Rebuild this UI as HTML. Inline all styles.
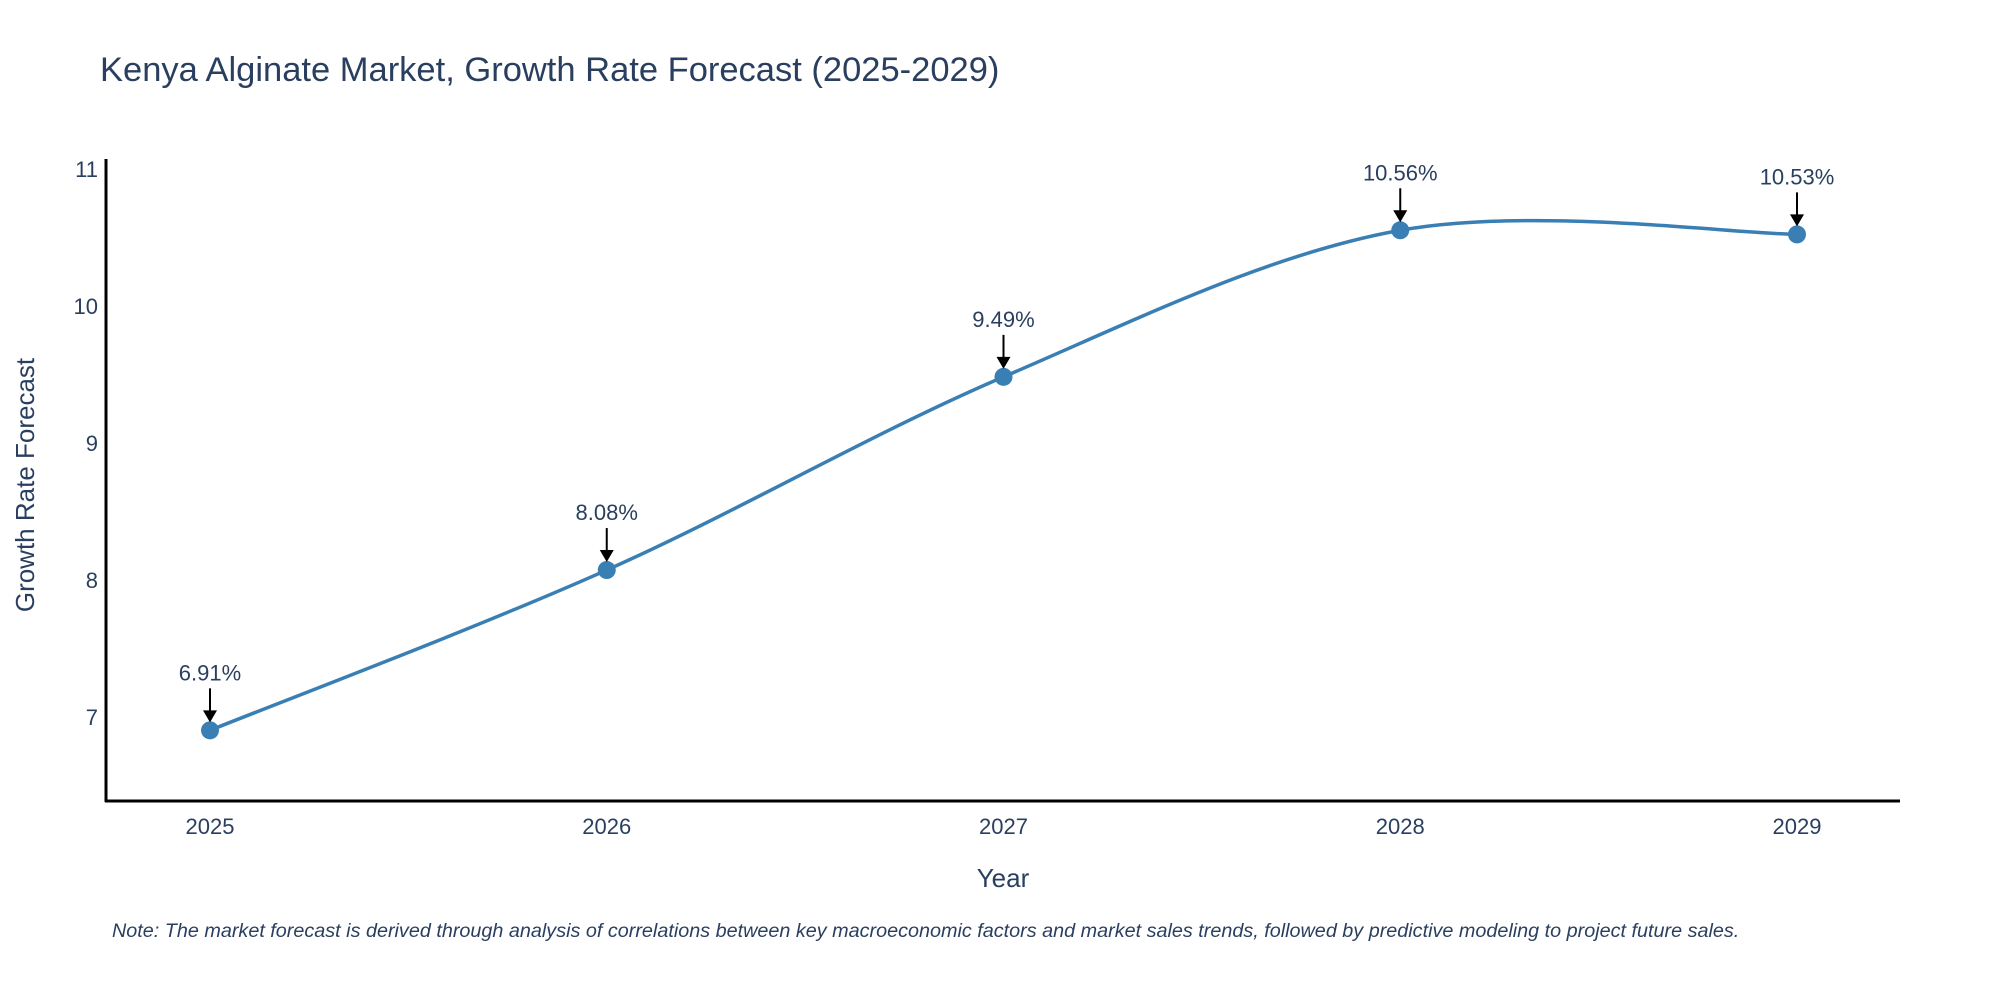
<!DOCTYPE html>
<html><head><meta charset="utf-8"><style>
body{margin:0;background:#fff;}
svg text{font-family:"Liberation Sans",sans-serif;}
</style></head><body>
<svg id="chart" width="2000" height="1000" viewBox="0 0 2000 1000" xmlns="http://www.w3.org/2000/svg">
<text x="100" y="81" font-size="34.5" fill="#2a3f5f">Kenya Alginate Market, Growth Rate Forecast (2025-2029)</text>
<g id="yticks"></g>
<g id="xticks"></g>
<line x1="106" y1="159" x2="106" y2="802" stroke="#000" stroke-width="3"/>
<line x1="105" y1="801" x2="1900" y2="801" stroke="#000" stroke-width="3"/>
<path id="line" fill="none" stroke="#3a7fb4" stroke-width="3.5"/>
<g id="points"></g>
<g id="annots"></g>
<text x="1003" y="887" font-size="26" fill="#2a3f5f" text-anchor="middle">Year</text>
<text x="34" y="485" font-size="26" fill="#2a3f5f" text-anchor="middle" transform="rotate(-90 34 485)">Growth Rate Forecast</text>
<text x="112" y="937" font-size="19.8" font-style="italic" fill="#2a3f5f">Note: The market forecast is derived through analysis of correlations between key macroeconomic factors and market sales trends, followed by predictive modeling to project future sales.</text>
</svg>
<script>
const years=[2025,2026,2027,2028,2029];
const values=[6.91,8.08,9.49,10.56,10.53];
const labels=["6.91%","8.08%","9.49%","10.56%","10.53%"];
const yTicks=[7,8,9,10,11];
const NS="http://www.w3.org/2000/svg";
function xs(v){return 210+(v-2025)*396.75;}
function ys(v){return 718-(v-7)*137;}
function mk(tag,attrs,parent){const e=document.createElementNS(NS,tag);for(const k in attrs)e.setAttribute(k,attrs[k]);parent.appendChild(e);return e;}
const yt=document.getElementById('yticks');
yTicks.forEach(t=>{const e=mk('text',{x:98,y:ys(t)+7,'font-size':22,fill:'#2a3f5f','text-anchor':'end'},yt);e.textContent=t;

});
const xt=document.getElementById('xticks');
years.forEach(t=>{const e=mk('text',{x:xs(t),y:834,'font-size':22,fill:'#2a3f5f','text-anchor':'middle'},xt);e.textContent=t;

});
const P=years.map((y,i)=>[xs(y),ys(values[i])]);
let d='M'+P[0][0]+','+P[0][1];const s=1/6;
for(let i=0;i<P.length-1;i++){const p0=P[Math.max(0,i-1)],p1=P[i],p2=P[i+1],p3=P[Math.min(P.length-1,i+2)];
const c1=[p1[0]+(p2[0]-p0[0])*s,p1[1]+(p2[1]-p0[1])*s];const c2=[p2[0]-(p3[0]-p1[0])*s,p2[1]-(p3[1]-p1[1])*s];
d+=` C${c1[0]},${c1[1]} ${c2[0]},${c2[1]} ${p2[0]},${p2[1]}`;}
document.getElementById('line').setAttribute('d',d);
const pg=document.getElementById('points'),ag=document.getElementById('annots');
P.forEach((p,i)=>{const c=mk('circle',{cx:p[0],cy:p[1],r:9,fill:'#3a7fb4'},pg);


const l=mk('line',{x1:p[0],y1:p[1]-42,x2:p[0],y2:p[1]-18,stroke:'#000','stroke-width':2},ag);


const h=mk('path',{d:`M${p[0]-7},${p[1]-20} L${p[0]+7},${p[1]-20} L${p[0]},${p[1]-8} Z`,fill:'#000'},ag);


const t=mk('text',{x:p[0],y:p[1]-50,'font-size':22,fill:'#2a3f5f','text-anchor':'middle'},ag);t.textContent=labels[i];

});
</script>
</body></html>
